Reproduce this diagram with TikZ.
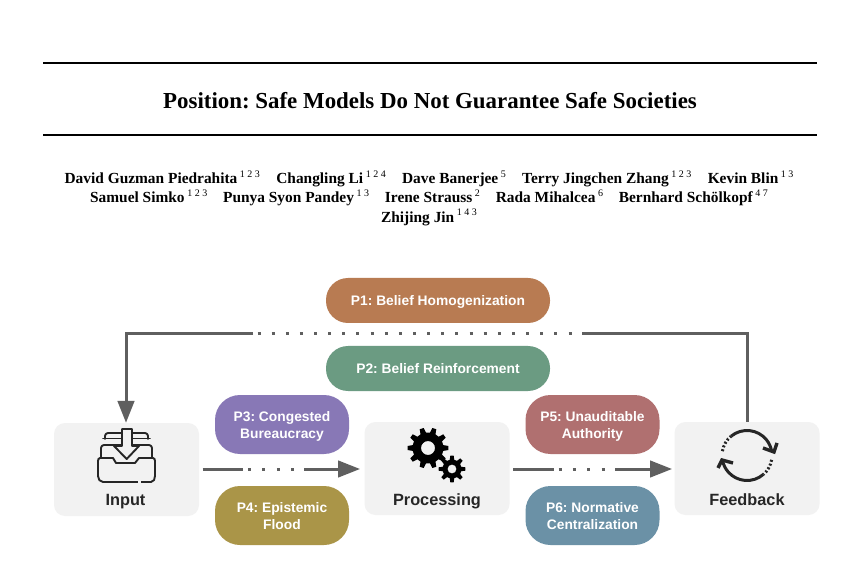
\documentclass[tikz,border=0pt]{standalone}
\usepackage{fontspec}
\setmainfont{Liberation Serif}
\newfontfamily\diagfont{Liberation Sans}
\usetikzlibrary{arrows.meta,calc}
\definecolor{linegray}{HTML}{5F5F5F}
\definecolor{boxgray}{HTML}{F2F2F2}
\definecolor{pa}{HTML}{B87B52}
\definecolor{pb}{HTML}{6B9B82}
\definecolor{pc}{HTML}{8878B6}
\definecolor{pd}{HTML}{AA9548}
\definecolor{pe}{HTML}{B07070}
\definecolor{pf}{HTML}{6B91A6}
\newcommand{\aff}[1]{\,\raisebox{0.42em}{\fontsize{10}{10}\selectfont\mdseries #1}}
% cx cy outer inner hole teeth
\newcommand{\gearicon}[6]{%
  \fill[black,even odd rule]
  \foreach \t in {1,...,#6}{
    \pgfextra{\pgfmathsetmacro{\st}{360/#6}\pgfmathsetmacro{\a}{\t*\st}}
    \ifnum\t=1 ($(#1,#2)+(\a-0.30*\st:#4)$) \else -- ($(#1,#2)+(\a-0.30*\st:#4)$) \fi
    -- ($(#1,#2)+(\a-0.16*\st:#3)$) -- ($(#1,#2)+(\a+0.16*\st:#3)$) -- ($(#1,#2)+(\a+0.30*\st:#4)$)
  } -- cycle (#1,#2) circle (#5);}
\tikzset{
  x=1pt,y=1pt,
  rulebar/.style={line width=1.3pt,black},
  stagebox/.style={fill=boxgray,rounded corners=11pt,minimum width=145pt,minimum height=93pt,inner sep=0pt},
  pill/.style={inner sep=0pt,text=white,align=center,font=\diagfont\bfseries\fontsize{13.8}{17}\selectfont,text depth=0pt},
  widepill/.style={pill,rounded corners=22pt,minimum width=224pt,minimum height=45pt},
  tallpill/.style={pill,rounded corners=25pt,minimum width=134pt,minimum height=59pt},
  stagelabel/.style={font=\diagfont\bfseries\fontsize{16.3}{18}\selectfont,text=black!85,inner sep=0pt},
  conn/.style={line width=3pt,linegray},
  headed/.style={conn,-{Triangle[length=22pt,width=16.5pt]}},
  icon/.style={line width=1.9pt,black!85,line join=round,line cap=round},
}
\begin{document}
\frenchspacing
\begin{tikzpicture}
\useasboundingbox[fill=white] (0,0) rectangle (864,576);
% header
\coordinate (r1a) at (43,513); \coordinate (r1b) at (817,513);
\coordinate (r2a) at (43,441); \coordinate (r2b) at (817,441);
\draw[rulebar] (r1a) -- (r1b);
\draw[rulebar] (r2a) -- (r2b);
\node[font=\bfseries\fontsize{22.9}{26}\selectfont,inner sep=0pt] (title) at (430,475) {Position: Safe Models Do Not Guarantee Safe Societies};
\node[font=\bfseries\fontsize{15.4}{19.3}\selectfont,align=center,inner sep=0pt] (authors) at (429,378) {%
David Guzman Piedrahita\aff{1 2 3}\hspace{12.5pt} Changling Li\aff{1 2 4}\hspace{12.5pt} Dave Banerjee\aff{5}\hspace{12.5pt} Terry Jingchen Zhang\aff{1 2 3}\hspace{12.5pt} Kevin Blin\aff{1 3}\\
Samuel Simko\aff{1 2 3}\hspace{12pt} Punya Syon Pandey\aff{1 3}\hspace{12pt} Irene Strauss\aff{2}\hspace{12pt} Rada Mihalcea\aff{6}\hspace{12pt} Bernhard Schölkopf\aff{4 7}\\
Zhijing Jin\aff{1 4 3}};
% boxes
\node[stagebox] (input) at (126.5,106.5) {};
\node[stagebox] (proc) at (437,107.5) {};
\node[stagebox] (feed) at (747,107.5) {};
\node[stagelabel] (inputl) at (125.5,74.5) {Input};
\node[stagelabel] (procl) at (437,74.5) {Processing};
\node[stagelabel] (feedl) at (747,76.5) {Feedback};
% pills
\node[widepill,fill=pa] (p1) at (438,275.5) {P1: Belief Homogenization};
\node[widepill,fill=pb] (p2) at (438,207.5) {P2: Belief Reinforcement};
\node[tallpill,fill=pc] (p3) at (282,151.5) {P3: Congested\\Bureaucracy};
\node[tallpill,fill=pd] (p4) at (282,60.5) {P4: Epistemic\\Flood};
\node[tallpill,fill=pe] (p5) at (592.5,151.5) {P5: Unauditable\\Authority};
\node[tallpill,fill=pf] (p6) at (592.5,60.5) {P6: Normative\\Centralization};
% feedback connector
\coordinate (topR) at (747,242);
\coordinate (topL) at (126,242);
\coordinate (d1) at (582,242);
\coordinate (d2) at (253,242);
\draw[conn] (feed.north -| topR) -- (topR) -- (d1);
\draw[conn,dash pattern=on 3pt off 11.14pt] (d2)++(4.5,0) -- (d1);
\draw[headed] (d2) -- (topL) -- (input.north -| topL);
% input -> processing
\coordinate (a1) at (202.5,107); \coordinate (a2) at (243,107); \coordinate (a3) at (248,107); \coordinate (a4) at (304,107);
\coordinate (a5) at (360,107);
\draw[conn] (a1) -- (a2);
\draw[conn,dash pattern=on 3pt off 11.4pt] (a3) -- (a4);
\draw[headed] (a4) -- (a5);
% processing -> feedback
\coordinate (b1) at (513,107); \coordinate (b2) at (554,107); \coordinate (b3) at (558.5,107); \coordinate (b4) at (615,107);
\coordinate (b5) at (672,107);
\draw[conn] (b1) -- (b2);
\draw[conn,dash pattern=on 3pt off 11.4pt] (b3) -- (b4);
\draw[headed] (b4) -- (b5);
% tray icon
\draw[icon] (105,137) -- (105,140) to[out=90,in=180] (108,143) -- (145,143) to[out=0,in=90] (148,140) -- (148,137);
\draw[icon] (103,137.5) -- (150,137.5);
\draw[icon] (101,118) -- (101,128) to[out=90,in=180] (104,131) -- (149,131) to[out=0,in=90] (152,128) -- (152,118);
\draw[icon,fill=boxgray] (122,147) -- (132,147) -- (132,130) -- (139,130) -- (126.7,117) -- (114,130) -- (122,130) -- cycle;
\draw[icon] (98,100) -- (98,115) to[out=90,in=180] (100,118) -- (113,118)
  -- (116,113) -- (135,113) -- (139,118) -- (153,118) to[out=0,in=90] (155,115) -- (155,100)
  to[out=-90,in=0] (151,94) -- (103,94) to[out=180,in=-90] (98,100) -- cycle;
\fill[boxgray] (138,92) rectangle (140.5,96);
% gears
\gearicon{428}{128}{20.5}{15.5}{7}{10}
\gearicon{452}{107}{13.5}{9.5}{4.5}{8}
% cycle icon
\coordinate (cyc) at (747,120.5);
\draw[icon,line width=3pt,line cap=butt] ($(cyc)+(129:25)$) arc (129:10:25);
\draw[icon,line width=3pt,dash pattern=on 2pt off 2pt,line cap=butt] ($(cyc)+(170:25)$) arc (170:129:25);
\draw[icon,line width=3pt,line cap=butt] ($(cyc)+(311:25)$) arc (311:192:25);
\draw[icon,line width=3pt,dash pattern=on 2pt off 2pt,line cap=butt] ($(cyc)+(350:25)$) arc (350:311:25);
\draw[icon,line width=3.4pt,line cap=butt,line join=miter] (777,133) -- (774,124) -- (763,128);
\draw[icon,line width=3.4pt,line cap=butt,line join=miter] (718,108) -- (722,116) -- (733,113);
\end{tikzpicture}
\end{document}
